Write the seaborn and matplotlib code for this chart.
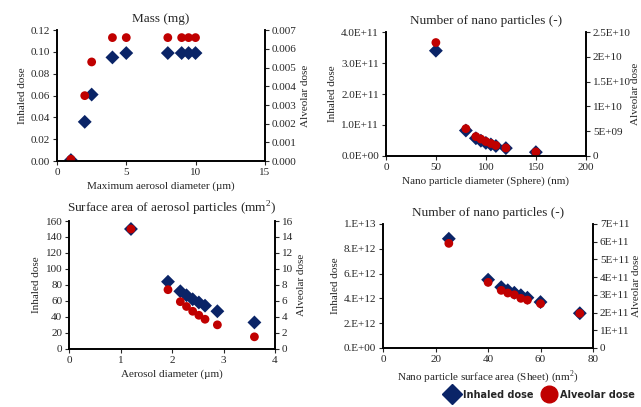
import numpy as np
import pandas as pd
import matplotlib
matplotlib.use("Agg")
import matplotlib.pyplot as plt
import seaborn as sns
from matplotlib.lines import Line2D

sns.set_style("white")
plt.rcParams["font.family"] = ["Liberation Serif", "DejaVu Serif"]
plt.rcParams["mathtext.fontset"] = "custom"
plt.rcParams["mathtext.rm"] = "Liberation Serif"

# data
mass_x = [1, 2, 2.5, 4, 5, 8, 9, 9.5, 10]
mass_inh = [0.001, 0.036, 0.061, 0.095, 0.099, 0.099, 0.099, 0.099, 0.099]
mass_alv = [0.0001, 0.0035, 0.0053, 0.0066, 0.0066, 0.0066, 0.0066, 0.0066, 0.0066]

sph_x = [50, 80, 90, 95, 100, 105, 110, 120, 150]
sph_inh = [3.4e11, 0.82e11, 0.57e11, 0.49e11, 0.42e11, 0.37e11, 0.32e11, 0.25e11, 0.12e11]
sph_alv = [2.29e10, 0.55e10, 0.39e10, 0.34e10, 0.29e10, 0.25e10, 0.21e10, 0.16e10, 0.08e10]

surf_x = [1.2, 1.92, 2.16, 2.28, 2.4, 2.52, 2.64, 2.88, 3.6]
surf_inh = [150, 84, 72, 67, 62, 58, 54, 47, 33]
surf_alv = [15, 7.4, 5.9, 5.3, 4.7, 4.2, 3.7, 3.0, 1.5]

sheet_x = [25, 40, 45, 47.5, 50, 52.5, 55, 60, 75]
sheet_inh = [8.8e12, 5.5e12, 4.9e12, 4.65e12, 4.45e12, 4.25e12, 4.05e12, 3.7e12, 2.8e12]
sheet_alv = [5.9e11, 3.7e11, 3.25e11, 3.1e11, 3.0e11, 2.8e11, 2.7e11, 2.5e11, 1.95e11]

NAVY = "#0a2467"
RED = "#c00000"

fig = plt.figure(figsize=(6.41, 4.07), dpi=100)

panels = [
    dict(rect=[0.089, 0.604, 0.324, 0.322], x=mass_x, inh=mass_inh, alv=mass_alv,
         title="Mass (mg)", xlabel="Maximum aerosol diameter (\u00b5m)",
         xlim=(0, 15), xt=[0, 5, 10, 15], ylim=(0, 0.12), yt=np.arange(0, 0.121, 0.02),
         yfmt=lambda v: f"{v:.2f}", y2lim=(0, 0.007), y2t=np.arange(0, 0.0071, 0.001),
         y2fmt=lambda v: f"{v:.3f}", pad2=3),
    dict(rect=[0.602, 0.617, 0.312, 0.304], x=sph_x, inh=sph_inh, alv=sph_alv,
         title="Number of nano particles (-)", xlabel="Nano particle diameter (Sphere) (nm)",
         xlim=(0, 200), xt=[0, 50, 100, 150, 200], ylim=(0, 4e11), yt=np.arange(0, 4.01e11, 1e11),
         yfmt=lambda v: f"{v/1e11:.1f}E+11" if v > 0 else "0.0E+00",
         y2lim=(0, 2.5e10), y2t=np.arange(0, 2.51e10, 0.5e10),
         y2fmt=lambda v: "0" if v == 0 else (f"{v/1e10:g}E+10" if v >= 1e10 else f"{v/1e9:g}E+09"),
         pad2=0),
    dict(rect=[0.108, 0.143, 0.321, 0.314], x=surf_x, inh=surf_inh, alv=surf_alv,
         title="Surface area of aerosol particles (mm$^2$)", xlabel="Aerosol diameter (\u00b5m)",
         xlim=(0, 4), xt=[0, 1, 2, 3, 4], ylim=(0, 160), yt=np.arange(0, 161, 20),
         yfmt=lambda v: f"{v:.0f}", y2lim=(0, 16), y2t=np.arange(0, 17, 2),
         y2fmt=lambda v: f"{v:.0f}", pad2=3),
    dict(rect=[0.598, 0.145, 0.327, 0.305], x=sheet_x, inh=sheet_inh, alv=sheet_alv,
         title="Number of nano particles (-)", xlabel="Nano particle surface area (Sheet) (nm$^2$)",
         xlim=(0, 80), xt=[0, 20, 40, 60, 80], ylim=(0, 1e13), yt=np.arange(0, 1.01e13, 2e12),
         yfmt=lambda v: "0.E+00" if v == 0 else (f"{v/1e12:.0f}.E+12" if v < 1e13 else "1.E+13"),
         y2lim=(0, 7e11), y2t=np.arange(0, 7.1e11, 1e11),
         y2fmt=lambda v: "0" if v == 0 else f"{v/1e11:.0f}E+11", pad2=2),
]

fs = 8
for p in panels:
    ax = fig.add_axes(p["rect"])
    ax2 = ax.twinx()
    df = pd.DataFrame({"x": p["x"], "inh": p["inh"], "alv": p["alv"]})
    sns.scatterplot(data=df, x="x", y="inh", ax=ax, marker="D", s=50, color=NAVY,
                    edgecolor="none")
    sns.scatterplot(data=df, x="x", y="alv", ax=ax2, marker="o", s=40, color=RED,
                    edgecolor="none")
    ax.set_xlim(*p["xlim"])
    ax.set_ylim(*p["ylim"])
    ax2.set_ylim(*p["y2lim"])
    ax.set_xticks(p["xt"])
    ax.set_yticks(p["yt"])
    ax.set_yticklabels([p["yfmt"](v) for v in p["yt"]])
    ax2.set_yticks(p["y2t"])
    ax2.set_yticklabels([p["y2fmt"](v) for v in p["y2t"]])
    ax.set_xlabel(p["xlabel"], fontsize=fs, labelpad=3)
    ax.set_ylabel("Inhaled dose", fontsize=fs, labelpad=3)
    ax2.set_ylabel("Alveolar dose", fontsize=fs, labelpad=p["pad2"])
    ax.set_title(p["title"], fontsize=9.5, pad=6)
    for a in (ax, ax2):
        a.tick_params(labelsize=fs, length=3, width=0.8, direction="out", pad=2)
        a.spines["top"].set_visible(False)
        for s in ("left", "right", "bottom"):
            a.spines[s].set_color("black")
            a.spines[s].set_linewidth(1.2)
    ax.tick_params(left=True, bottom=True)
    ax2.tick_params(right=True)
    if ax.get_legend():
        ax.get_legend().remove()

handles = [
    Line2D([], [], marker="D", color=NAVY, linestyle="none", markersize=10),
    Line2D([], [], marker="o", color=RED, linestyle="none", markersize=12),
]
fig.legend(handles, ["Inhaled dose", "Alveolar dose"], loc="center",
           bbox_to_anchor=(0.84, 0.03), ncol=2, frameon=False, handletextpad=0.1,
           columnspacing=0.6, prop={"family": "DejaVu Sans", "weight": "bold", "size": 7})

fig.savefig("out.png", dpi=100)
